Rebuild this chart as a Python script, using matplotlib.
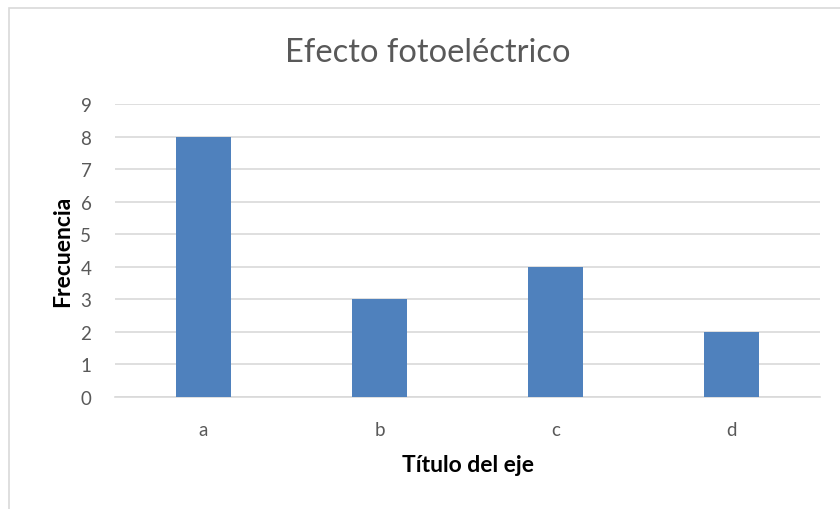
import matplotlib
matplotlib.use("Agg")
import matplotlib.pyplot as plt
from matplotlib.patches import Rectangle

categories = ["a", "b", "c", "d"]
frecuencia = [8, 3, 4, 2]
y_ticks = list(range(0, 10))

plt.rcParams["font.family"] = ["Lato", "DejaVu Sans"]

fig = plt.figure(figsize=(8.4, 5.1), dpi=100)
fig.patch.set_facecolor("white")

# light frame around the chart area
fig.add_artist(Rectangle((9 / 840, -0.1), 1.2, 1 - 9 / 510 + 0.1,
                         transform=fig.transFigure, fill=False,
                         edgecolor="#d9d9d9", linewidth=1.2))

ax = fig.add_axes([115 / 840, 1 - 398 / 510, (820 - 115) / 840, (398 - 105) / 510])
x = range(len(categories))
ax.bar(x, frecuencia, width=0.313, color="#4f81bd", zorder=3)

ax.set_xlim(-0.5, len(categories) - 0.5)
ax.set_ylim(0, 9)
ax.set_yticks(y_ticks)
ax.set_xticks(list(x))
ax.set_xticklabels(categories)

ax.grid(axis="y", color="#d9d9d9", linewidth=1.2, zorder=0)
for side in ("top", "right", "left"):
    ax.spines[side].set_visible(False)
ax.spines["bottom"].set_color("#d9d9d9")
ax.spines["bottom"].set_linewidth(1.2)
ax.tick_params(axis="both", length=0, colors="#595959", labelsize=13.5)
ax.tick_params(axis="y", pad=17)
ax.tick_params(axis="x", pad=17)

ax.set_ylabel("Frecuencia", fontsize=16.5, fontweight="bold", color="black", labelpad=5)
ax.set_xlabel("Título del eje", fontsize=16.5, fontweight="bold", color="black", labelpad=12)

fig.text(0.5 * (286 + 570) / 840, 1 - 53 / 510, "Efecto fotoeléctrico",
         ha="center", va="center", fontsize=23.5, color="#595959")

fig.savefig("out.png", dpi=100, facecolor="white")
